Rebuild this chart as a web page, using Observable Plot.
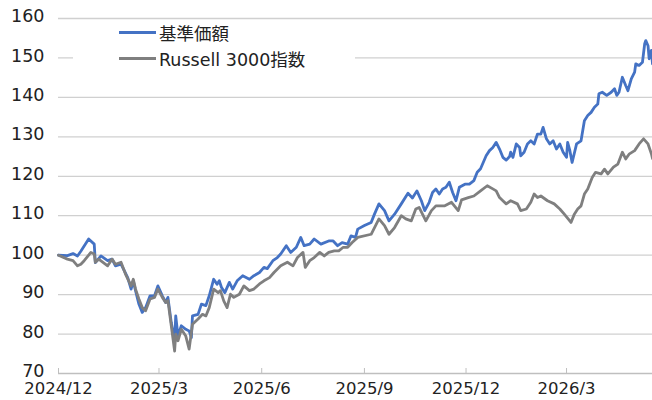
<!DOCTYPE html>
<html>
<head>
<meta charset="utf-8">
<script src="https://cdn.jsdelivr.net/npm/d3@7"></script>
<script src="https://cdn.jsdelivr.net/npm/@observablehq/plot@0.6"></script>
<style>
  html, body { margin: 0; padding: 0; background: #fff; }
  #wrap { position: relative; width: 652px; height: 400px; font-family: "DejaVu Sans", "Noto Sans CJK JP", sans-serif; }
  #legend { position: absolute; left: 73px; top: 22px; width: 282px; height: 52px; background: #fff; }
  .item { position: absolute; left: 46px; height: 20px; display: flex; align-items: center; font-size: 17.5px; color: #222; white-space: nowrap; }
  .sw { width: 37px; height: 0; border-top: 3px solid; margin-right: 3px; }
</style>
</head>
<body>
<div id="wrap"></div>
<script>
// Series names
const seriesNames = ["基準価額", "Russell 3000指数"];
const seriesColors = ["#4472C4", "#7F7F7F"];

// Days since 2024-12-01 and values
const fundDays = [0,8,13,17,20,27,32,33,38,44,48,51,56,62,65,67,69,72,75,78,82,86,89,93,96,98,101,104,105,107,110,114,117,119,120,125,128,132,135,139,142,144,146,149,153,156,160,165,171,175,180,184,187,192,196,199,204,208,213,217,220,225,229,235,242,246,250,254,259,262,266,268,274,280,283,287,292,296,301,307,313,317,321,325,328,332,335,338,341,344,347,350,353,356,359,364,368,372,375,378,383,386,389,392,395,398,401,404,405,407,410,413,414,417,420,423,426,429,432,434,437,440,443,446,449,452,455,456,458,460,464,468,471,474,477,480,483,484,487,491,495,498,500,502,505,508,510,513,516,517,520,523,525,526,528,529,531,532];
const fundValues = [100.0,99.9,100.4,99.8,101.0,104.1,102.8,98.1,99.8,98.6,99.0,97.3,97.7,94.3,91.4,93.5,91.0,87.6,85.5,86.7,89.7,89.7,92.2,89.7,88.0,89.3,82.9,78.3,84.6,79.5,82.1,81.2,80.8,79.1,84.6,85.0,87.6,87.2,89.7,93.9,92.6,93.5,91.8,90.5,93.1,91.4,93.5,94.8,93.9,94.8,95.6,96.9,96.6,98.6,99.4,100.3,102.4,100.7,102.0,104.5,102.4,102.8,104.1,102.8,103.6,103.6,102.4,103.2,102.8,104.9,104.5,106.6,107.5,108.3,110.4,113.0,111.3,108.7,110.4,113.0,115.7,114.5,116.3,113.8,111.3,113.4,115.9,116.8,115.5,116.8,117.2,118.5,115.9,113.8,117.2,118.0,118.0,118.9,121.0,121.9,125.2,126.5,127.3,128.6,126.9,124.8,124.1,125.0,126.1,124.8,128.2,127.3,125.2,126.1,128.2,129.0,128.2,130.7,130.7,132.4,129.5,128.2,129.0,126.9,128.2,126.1,124.8,128.6,126.5,123.5,128.2,129.0,134.1,135.4,136.2,137.5,138.3,140.9,141.3,140.5,141.3,142.2,140.5,141.3,145.1,143.0,141.7,144.7,146.4,148.5,148.1,148.9,153.6,154.4,153.1,149.8,151.9,148.5];

const indexDays = [0,8,13,17,20,23,29,32,33,36,44,48,51,56,60,65,67,69,72,75,78,82,86,89,93,96,98,101,104,105,107,110,114,117,120,125,129,132,135,139,143,145,148,151,154,157,162,166,171,175,180,184,189,193,199,205,210,214,219,221,225,229,234,238,242,247,251,255,259,263,268,280,287,292,296,301,307,311,316,320,323,329,334,338,346,352,358,361,367,372,378,384,389,392,395,398,401,405,411,414,419,423,426,429,432,438,444,449,453,459,462,465,468,471,474,478,481,486,489,492,497,501,505,508,511,516,520,524,528,531,532];
const indexValues = [100.0,99.0,98.6,97.3,97.7,98.6,100.7,100.3,98.2,99.0,97.3,99.0,97.7,98.2,95.2,92.2,93.9,91.4,88.9,86.7,85.9,88.9,89.3,91.4,89.3,88.0,88.5,82.1,75.7,80.0,78.3,81.2,79.5,76.2,82.5,83.8,85.0,84.6,86.7,91.4,90.5,91.0,88.4,86.7,90.1,89.3,90.1,92.2,91.0,91.4,92.7,93.5,94.3,95.6,97.3,98.2,97.3,99.4,100.7,96.9,98.6,99.4,100.7,99.8,100.7,101.1,101.1,102.0,102.0,103.2,104.5,105.3,109.2,107.5,105.3,107.0,110.0,109.2,108.7,111.7,112.1,108.7,111.3,112.5,112.5,113.4,111.3,114.0,114.6,115.0,116.3,117.6,116.8,116.3,114.6,113.8,113.0,113.8,113.0,111.3,111.7,113.4,115.5,114.6,115.0,113.8,113.0,111.7,110.4,108.3,110.4,111.7,112.5,115.5,116.8,119.7,121.0,120.6,121.8,120.6,122.3,123.1,126.1,124.4,125.6,126.5,128.2,129.5,128.2,125.7,124.5];

// Axis ticks
const yTicks = [70, 80, 90, 100, 110, 120, 130, 140, 150, 160];
const xTickDates = ["2024-12-01", "2025-03-01", "2025-06-01", "2025-09-01", "2025-12-01", "2026-03-01"];
const xTickLabels = ["2024/12", "2025/3", "2025/6", "2025/9", "2025/12", "2026/3"];

const start = new Date(Date.UTC(2024, 11, 1));
const toDate = d => d3.utcDay.offset(start, d);
const fund = fundDays.map((d, i) => ({date: toDate(d), value: fundValues[i]}));
const index = indexDays.map((d, i) => ({date: toDate(d), value: indexValues[i]}));
const xTicks = xTickDates.map(s => new Date(s + "T00:00:00Z"));
const labelOf = new Map(xTicks.map((d, i) => [+d, xTickLabels[i]]));

const chart = Plot.plot({
  width: 652,
  height: 400,
  marginTop: 18,
  marginBottom: 27,
  marginLeft: 58,
  marginRight: 0,
  style: {fontFamily: '"DejaVu Sans", "Noto Sans CJK JP", sans-serif', fontSize: "18px", color: "#222", background: "#fff"},
  x: {type: "utc", domain: [start, toDate(532)]},
  y: {domain: [70, 160]},
  marks: [
    Plot.ruleY(yTicks.filter(v => v > 70), {stroke: "#d0d0d0", strokeWidth: 1.3}),
    Plot.ruleY([70], {stroke: "#bfbfbf", strokeWidth: 1.3}),
    Plot.axisY({ticks: yTicks, tickSize: 0, tickPadding: 14, label: null, fontSize: 17.5, dy: -2}),
    Plot.axisX({ticks: xTicks, tickSize: -5, tickPadding: 14, stroke: "#bfbfbf", tickFormat: d => labelOf.get(+d), label: null, fontSize: 16.5}),
    Plot.line(fund, {x: "date", y: "value", stroke: seriesColors[0], strokeWidth: 2.8, strokeLinejoin: "round"}),
    Plot.line(index, {x: "date", y: "value", stroke: seriesColors[1], strokeWidth: 2.8, strokeLinejoin: "round"})
  ]
});

const wrap = document.getElementById("wrap");
wrap.appendChild(chart);
const legend = document.createElement("div");
legend.id = "legend";
seriesNames.forEach((name, i) => {
  const item = document.createElement("div");
  item.className = "item";
  item.style.top = (i === 0 ? 0 : 26) + "px";
  const sw = document.createElement("span");
  sw.className = "sw";
  sw.style.borderTopColor = seriesColors[i];
  const t = document.createElement("span");
  t.textContent = name;
  item.appendChild(sw);
  item.appendChild(t);
  legend.appendChild(item);
});
wrap.appendChild(legend);
</script>
</body>
</html>
